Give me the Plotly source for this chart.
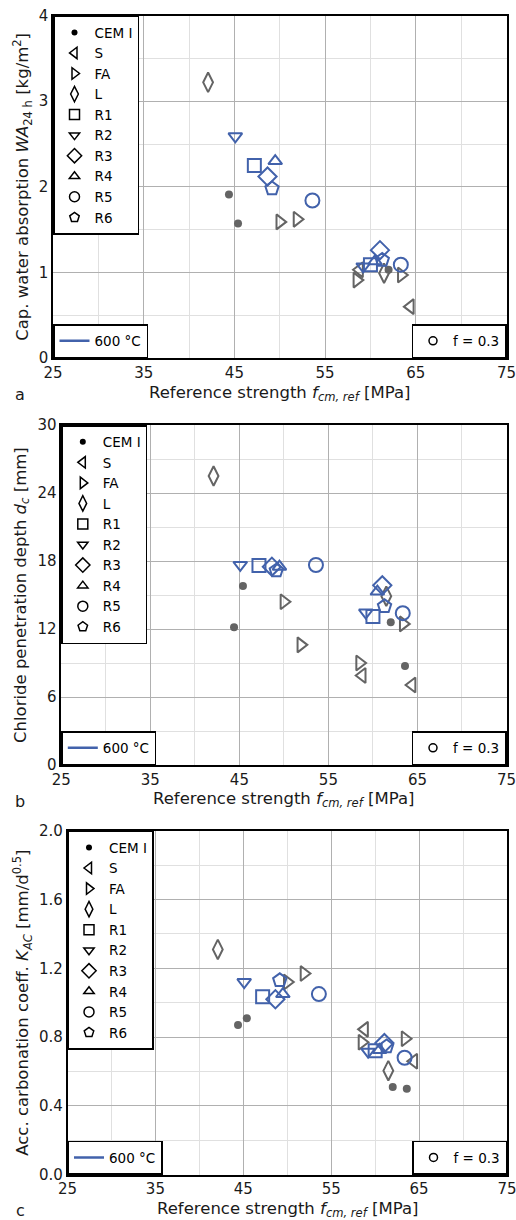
import plotly.graph_objects as go

# ---------------- data ----------------
series_names = ["CEM I", "S", "FA", "L", "R1", "R2", "R3", "R4", "R5", "R6"]

fcm_cem = [44.4, 45.4, 62.0, 63.6]
fcm_s = [58.8, 64.4]
fcm_fa = [50.0, 51.9, 58.5, 63.4]
fcm_l = [42.1, 61.5]
fcm_r1 = [47.2, 60.0]
fcm_r2 = [45.1, 59.2]
fcm_r3 = [48.65, 61.05]
fcm_r4 = [49.5, 60.5]
fcm_r5 = [53.6, 63.35]
fcm_r6 = [49.15, 61.3]

# (a) capillary water absorption WA24h [kg/m2]
wa_cem = [1.91, 1.57, 1.03, None]
wa_s = [1.03, 0.60]
wa_fa = [1.59, 1.62, 0.91, 0.97]
wa_l = [3.22, 0.99]
wa_r1 = [2.25, 1.09]
wa_r2 = [2.59, 1.07]
wa_r3 = [2.12, 1.26]
wa_r4 = [2.30, 1.13]
wa_r5 = [1.84, 1.09]
wa_r6 = [1.98, 1.145]

# (b) chloride penetration depth dc [mm]
dc_cem = [12.15, 15.8, 12.6, 8.74]
dc_s = [7.9, 7.06]
dc_fa = [14.4, 10.6, 9.0, 12.45]
dc_l = [25.5, 14.9]
dc_r1 = [17.6, 13.1]
dc_r2 = [17.65, 13.45]
dc_r3 = [17.5, 15.85]
dc_r4 = [17.5, 15.3]
dc_r5 = [17.65, 13.4]
dc_r6 = [17.15, 14.0]

# (c) accelerated carbonation coefficient KAC [mm/d^0.5]
kac_cem = [0.87, 0.91, 0.51, 0.50]
kac_s = [0.845, 0.66]
kac_fa = [1.12, 1.17, 0.77, 0.79]
kac_l = [1.31, 0.605]
kac_r1 = [1.035, 0.72]
kac_r2 = [1.12, 0.715]
kac_r3 = [1.02, 0.765]
kac_r4 = [1.05, 0.725]
kac_r5 = [1.05, 0.68]
kac_r6 = [1.13, 0.745]

x_ticks = [25, 35, 45, 55, 65, 75]

# ---------------- styling ----------------
GRAY = "#646464"
BLUE = "#4262ab"
FONT = "DejaVu Sans"
W, H = 516, 1220

symbols = {
    "CEM I": "circle", "S": "triangle-left-open", "FA": "triangle-right-open",
    "L": "diamond-tall-open", "R1": "square-open", "R2": "triangle-down-open",
    "R3": "diamond-open", "R4": "triangle-up-open", "R5": "circle-open",
    "R6": "pentagon-open",
}
sizes = {"CEM I": 8, "S": 13, "FA": 13, "L": 14, "R1": 13, "R2": 12,
         "R3": 14, "R4": 12, "R5": 14, "R6": 14}
leg_sizes = {"CEM I": 6, "S": 10, "FA": 10, "L": 11, "R1": 10, "R2": 9,
             "R3": 11, "R4": 9, "R5": 10, "R6": 10}

fcm = {"CEM I": fcm_cem, "S": fcm_s, "FA": fcm_fa, "L": fcm_l, "R1": fcm_r1,
       "R2": fcm_r2, "R3": fcm_r3, "R4": fcm_r4, "R5": fcm_r5, "R6": fcm_r6}
panels = [
    {"CEM I": wa_cem, "S": wa_s, "FA": wa_fa, "L": wa_l, "R1": wa_r1, "R2": wa_r2,
     "R3": wa_r3, "R4": wa_r4, "R5": wa_r5, "R6": wa_r6},
    {"CEM I": dc_cem, "S": dc_s, "FA": dc_fa, "L": dc_l, "R1": dc_r1, "R2": dc_r2,
     "R3": dc_r3, "R4": dc_r4, "R5": dc_r5, "R6": dc_r6},
    {"CEM I": kac_cem, "S": kac_s, "FA": kac_fa, "L": kac_l, "R1": kac_r1, "R2": kac_r2,
     "R3": kac_r3, "R4": kac_r4, "R5": kac_r5, "R6": kac_r6},
]

# pixel geometry of plot areas (left, right, top, bottom)
boxes = [(53, 506.5, 15.6, 358), (61.3, 506.5, 425, 765), (67.5, 507, 830.7, 1174.7)]
yranges = [(0, 4), (0, 30), (0, 2.0)]
ydticks = [(1, 0.5), (6, 3), (0.4, 0.2)]
yfmt = ["", "", ".1f"]
ytitles = [
    "Cap. water absorption <i>WA</i><sub>24 h</sub> [kg/m<sup>2</sup>]",
    "Chloride penetration depth <i>d<sub>c</sub></i> [mm]",
    "Acc. carbonation coeff. <i>K<sub>AC</sub></i> [mm/d<sup>0.5</sup>]",
]
letters = ["a", "b", "c"]

fig = go.Figure()
layout = dict(width=W, height=H, margin=dict(l=0, r=0, t=0, b=0),
              paper_bgcolor="white", plot_bgcolor="white",
              font=dict(family=FONT, size=15, color="#1a1a1a"),
              showlegend=True, annotations=[])


def px(x):
    return x / W


def py(y):
    return 1 - y / H


for i, data in enumerate(panels):
    n = "" if i == 0 else str(i + 1)
    xa, ya = "x" + n, "y" + n
    l, r, t, b = boxes[i]
    for name in series_names:
        color = GRAY if name in ("CEM I", "S", "FA", "L") else BLUE
        fig.add_trace(go.Scatter(
            x=fcm[name], y=data[name], mode="markers", xaxis=xa, yaxis=ya,
            showlegend=False, hoverinfo="skip",
            marker=dict(symbol=symbols[name], size=sizes[name], color=color,
                        line=dict(color=color, width=2 if name != "CEM I" else 0)),
        ))
    lg = "legend" if i == 0 else "legend" + str(3 * i + 1)
    for name in series_names:
        fig.add_trace(go.Scatter(
            x=[None], y=[None], mode="markers", name=name, legend=lg,
            xaxis=xa, yaxis=ya,
            marker=dict(symbol=symbols[name], size=leg_sizes[name], color="black",
                        line=dict(color="black", width=1.5 if name != "CEM I" else 0)),
        ))
    lg2 = "legend" + str(3 * i + 2)
    lg3 = "legend" + str(3 * i + 3)
    fig.add_trace(go.Scatter(x=[None], y=[None], mode="lines", name="600 °C",
                             legend=lg2, xaxis=xa, yaxis=ya,
                             line=dict(color=BLUE, width=2.5)))
    fig.add_trace(go.Scatter(x=[None], y=[None], mode="markers", name="f = 0.3",
                             legend=lg3, xaxis=xa, yaxis=ya,
                             marker=dict(symbol="circle-open", size=8, color="black",
                                         line=dict(color="black", width=1.5))))
    legbase = dict(bordercolor="black", borderwidth=1.5, bgcolor="white",
                   font=dict(size=13.5, family=FONT, color="black"),
                   tracegroupgap=0, itemsizing="trace", xref="paper", yref="paper")
    layout[lg] = dict(legbase, x=px(l), y=py(t), xanchor="left", yanchor="top")
    layout[lg2] = dict(legbase, x=px(l), y=py(b), xanchor="left", yanchor="bottom")
    layout[lg3] = dict(legbase, x=px(r), y=py(b), xanchor="right", yanchor="bottom")

    layout["xaxis" + n] = dict(
        domain=[px(l), px(r)], anchor=ya, range=[25, 75], tickvals=x_ticks,
        ticktext=[str(v) for v in x_ticks], ticklabeloverflow="allow",
        showgrid=True, gridcolor="#b0b0b0", gridwidth=1.2,
        minor=dict(tick0=25, dtick=5, showgrid=True, gridcolor="#e0e0e0", gridwidth=1.2),
        showline=True, mirror=True, linecolor="black", linewidth=1.5,
        zeroline=False, ticks="", tickfont=dict(size=15, color="#1a1a1a"),
        automargin=False, fixedrange=True)
    d, md = ydticks[i]
    layout["yaxis" + n] = dict(
        domain=[py(b), py(t)], anchor=xa, range=list(yranges[i]),
        tick0=0, dtick=d, tickformat=yfmt[i], ticklabeloverflow="allow",
        showgrid=True, gridcolor="#b0b0b0", gridwidth=1.2,
        minor=dict(tick0=0, dtick=md, showgrid=True, gridcolor="#e0e0e0", gridwidth=1.2),
        showline=True, mirror=True, linecolor="black", linewidth=1.5,
        zeroline=False, ticks="", tickfont=dict(size=15, color="#1a1a1a"),
        automargin=False, fixedrange=True)

    layout["annotations"] += [
        dict(text="Reference strength <i>f<sub>cm, ref</sub></i> [MPa]",
             x=px((l + r) / 2), y=py(b + 35), xref="paper", yref="paper",
             xanchor="center", yanchor="middle", showarrow=False,
             font=dict(size=16.5, family=FONT, color="#1a1a1a")),
        dict(text=ytitles[i], x=px(22), y=py((t + b) / 2), xref="paper", yref="paper",
             xanchor="center", yanchor="middle", textangle=-90, showarrow=False,
             font=dict(size=16.5, family=FONT, color="#1a1a1a")),
        dict(text=letters[i], x=px(20), y=py(b + 36),
             xref="paper", yref="paper", xanchor="center", yanchor="middle",
             showarrow=False, font=dict(size=16, family=FONT, color="#1a1a1a")),
    ]

fig.update_layout(**layout)
fig.write_html("out.html")
